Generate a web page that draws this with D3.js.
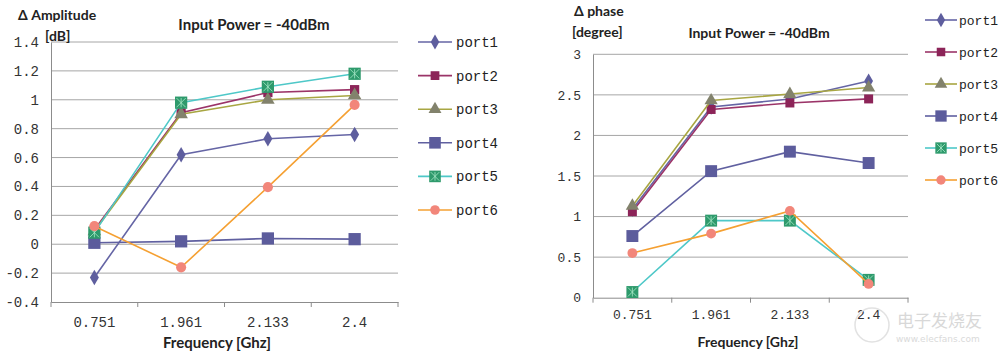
<!DOCTYPE html>
<html><head><meta charset="utf-8">
<script src="https://cdn.jsdelivr.net/npm/d3@7"></script>
<style>body{margin:0;background:#fff}svg{display:block}</style>
</head><body>
<svg id="c" width="1002" height="357"></svg>
<script>
const categories = ["0.751", "1.961", "2.133", "2.4"];
const ports = ["port1", "port2", "port3", "port4", "port5", "port6"];
// Δ Amplitude [dB]
const amp1 = [-0.23, 0.62, 0.73, 0.76];
const amp2 = [0.10, 0.91, 1.05, 1.07];
const amp3 = [0.09, 0.90, 1.00, 1.03];
const amp4 = [0.01, 0.02, 0.04, 0.035];
const amp5 = [0.08, 0.98, 1.09, 1.18];
const amp6 = [0.125, -0.16, 0.395, 0.965];
// Δ phase [degree]
const ph1 = [1.09, 2.35, 2.45, 2.67];
const ph2 = [1.06, 2.32, 2.40, 2.45];
const ph3 = [1.13, 2.43, 2.51, 2.59];
const ph4 = [0.76, 1.56, 1.80, 1.66];
const ph5 = [0.07, 0.95, 0.95, 0.22];
const ph6 = [0.55, 0.79, 1.07, 0.17];
const ampTicks = [-0.4, -0.2, 0, 0.2, 0.4, 0.6, 0.8, 1, 1.2, 1.4];
const phTicks = [0, 0.5, 1, 1.5, 2, 2.5, 3];

const styles = [
  {line:"#6565A5", fill:"#5E5E9E", sym:d3.symbolDiamond, size:70},
  {line:"#9B3468", fill:"#8C2458", sym:d3.symbolSquare, size:85},
  {line:"#A8A642", fill:"#82826C", sym:d3.symbolTriangle, size:80},
  {line:"#6060A0", fill:"#5C5C9C", sym:d3.symbolSquare, size:150},
  {line:"#4EC8C8", fill:"#2E9A6C", sym:d3.symbolSquare, size:150, cross:true},
  {line:"#F5A032", fill:"#F2867A", sym:d3.symbolCircle, size:80}
];

const svg = d3.select("#c");
const monoFont = "'Liberation Mono', monospace";
const boldFont = "Lato, 'Open Sans', sans-serif";

function marker(g, st, x, y, scale) {
  const s = st.size * scale;
  g.append("path").attr("transform", `translate(${x},${y})`)
    .attr("d", d3.symbol().type(st.sym).size(s)()).attr("fill", st.fill);
  if (st.cross) {
    const h = Math.sqrt(s) / 2 - 1.5;
    g.append("path").attr("transform", `translate(${x},${y})`)
      .attr("d", `M${-h},${-h}L${h},${h}M${-h},${h}L${h},${-h}M0,${-h}L0,${h}`)
      .attr("stroke", "#A8E8C8").attr("stroke-width", 0.8).attr("fill", "none");
  }
}

function chart(cfg) {
  const g = svg.append("g");
  const x = d3.scaleBand().domain(categories).range(cfg.xr);
  const y = d3.scaleLinear().domain(cfg.yd).range(cfg.yr);
  // gridlines
  g.selectAll(".grid").data(cfg.ticks.slice(1)).join("line")
    .attr("x1", cfg.xr[0]).attr("x2", cfg.gridEnd)
    .attr("y1", d => y(d)).attr("y2", d => y(d))
    .attr("stroke", "#A6A6A6").attr("stroke-width", 1);
  // y axis
  const ya = g.append("g").attr("transform", `translate(${cfg.xr[0]},0)`)
    .call(d3.axisLeft(y).tickValues(cfg.ticks).tickSize(0).tickPadding(cfg.yPad).tickFormat(d => String(+d.toFixed(2))));
  ya.select(".domain").attr("stroke", "#8C8C8C");
  ya.selectAll("text").attr("font-family", monoFont).attr("font-size", cfg.fs).attr("fill", "#333");
  // x axis
  const xa = g.append("g").attr("transform", `translate(0,${cfg.yr[0]})`)
    .call(d3.axisBottom(x).tickSize(0).tickPadding(cfg.xPad));
  xa.select(".domain").attr("stroke", "#8C8C8C");
  xa.selectAll("text").attr("font-family", monoFont).attr("font-size", cfg.fs).attr("fill", "#333");
  // boundary tick marks
  const bounds = categories.map(c => x(c)).concat([cfg.xr[1]]);
  g.selectAll(".bt").data(bounds).join("line")
    .attr("x1", d => d).attr("x2", d => d)
    .attr("y1", cfg.yr[0]).attr("y2", cfg.yr[0] + 5)
    .attr("stroke", "#8C8C8C");
  // series
  cfg.series.forEach((vals, i) => {
    const st = styles[i];
    const line = d3.line().x((d, j) => x(categories[j]) + x.bandwidth() / 2).y(d => y(d));
    g.append("path").datum(vals).attr("d", line).attr("fill", "none")
      .attr("stroke", st.line).attr("stroke-width", 1.6);
    vals.forEach((v, j) => marker(g, st, x(categories[j]) + x.bandwidth() / 2, y(v), cfg.ms));
  });
  // legend
  ports.forEach((p, i) => {
    const st = styles[i];
    const ly = cfg.leg.y0 + cfg.leg.dy * i;
    g.append("line").attr("x1", cfg.leg.x1).attr("x2", cfg.leg.x2).attr("y1", ly).attr("y2", ly)
      .attr("stroke", st.line).attr("stroke-width", 1.6);
    marker(g, st, (cfg.leg.x1 + cfg.leg.x2) / 2, ly, cfg.ms * 0.9);
    g.append("text").attr("x", cfg.leg.tx).attr("y", ly).attr("dy", "0.35em")
      .attr("font-family", monoFont).attr("font-size", cfg.fs).attr("fill", "#222").text(p);
  });
  // texts
  cfg.texts.forEach(t => {
    g.append("text").attr("x", t.x).attr("y", t.y).attr("text-anchor", t.a || "start")
      .attr("font-family", boldFont).attr("font-weight", "bold").attr("font-size", t.fs)
      .attr("fill", "#222").text(t.s);
  });
}

chart({
  xr: [51, 398], gridEnd: 398, yd: [-0.4, 1.4], yr: [302, 42], ticks: ampTicks,
  fs: 14, yPad: 12, xPad: 15, ms: 1,
  series: [amp1, amp2, amp3, amp4, amp5, amp6],
  leg: {x1: 418, x2: 452, tx: 456, y0: 42, dy: 33.6},
  texts: [
    {x: 18, y: 20, s: "Δ Amplitude", fs: 14},
    {x: 45, y: 41, s: "[dB]", fs: 14},
    {x: 254, y: 30, s: "Input Power = -40dBm", fs: 15, a: "middle"},
    {x: 217, y: 348, s: "Frequency [Ghz]", fs: 15, a: "middle"}
  ]
});

chart({
  xr: [593, 908], gridEnd: 908, yd: [0, 3], yr: [297.7, 54.3], ticks: phTicks,
  fs: 13, yPad: 12, xPad: 12, ms: 0.95,
  series: [ph1, ph2, ph3, ph4, ph5, ph6],
  leg: {x1: 925, x2: 957, tx: 959, y0: 20, dy: 32},
  texts: [
    {x: 574, y: 16, s: "Δ phase", fs: 14},
    {x: 572, y: 37, s: "[degree]", fs: 14},
    {x: 759, y: 38, s: "Input Power = -40dBm", fs: 14, a: "middle"},
    {x: 748, y: 347, s: "Frequency [Ghz]", fs: 14, a: "middle"}
  ]
});

// faint watermark
svg.append("text").attr("x", 897).attr("y", 327).attr("font-family", "'Noto Sans CJK SC', sans-serif")
  .attr("font-size", 17).attr("fill", "#D8D8D8").text("电子发烧友");
svg.append("text").attr("x", 896).attr("y", 342).attr("font-family", "'DejaVu Sans', sans-serif")
  .attr("font-size", 9).attr("fill", "#DADADA").text("www.elecfans.com");
svg.append("circle").attr("cx", 872).attr("cy", 325).attr("r", 17).attr("fill", "none").attr("stroke", "#E2E2E2").attr("stroke-width", 1.5);
</script>
</body></html>
